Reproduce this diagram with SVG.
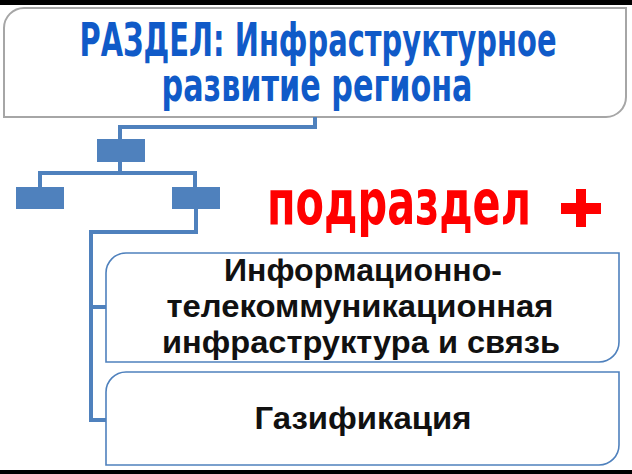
<svg xmlns="http://www.w3.org/2000/svg" width="632" height="474" viewBox="0 0 632 474">
<style>
.conn{fill:none;stroke:#4f81bd;stroke-width:4;stroke-linejoin:miter}
.sq{fill:#4f81bd}
.title{font-family:"Liberation Sans Narrow","DejaVu Sans Condensed","Liberation Sans",sans-serif;font-weight:bold;fill:#105ac8;text-anchor:middle}
.sub{font-family:"Liberation Sans",Arial,sans-serif;font-weight:bold;fill:#111;text-anchor:middle;font-size:32px}
.red{font-family:"Liberation Sans Narrow","DejaVu Sans Condensed","Liberation Sans",sans-serif;font-weight:bold;fill:#ff0000}
.box{fill:#fff;stroke:#4f81bd;stroke-width:1.6}
</style>
<rect x="0" y="0" width="632" height="474" fill="#fff"/>
<rect x="0" y="0" width="632" height="5" fill="#000"/>
<rect x="0" y="470" width="632" height="4" fill="#000"/>
<g id="title-box">
<path d="M24 8 H626 V97 A20 20 0 0 1 606 117 H4 V28 A20 20 0 0 1 24 8 Z" fill="#fff" stroke="#a6a6a6" stroke-width="2"/>
<text class="title" x="318" y="56" font-size="46" textLength="477" lengthAdjust="spacingAndGlyphs">РАЗДЕЛ: Инфраструктурное</text>
<text class="title" x="317" y="101" font-size="46" textLength="311" lengthAdjust="spacingAndGlyphs">развитие региона</text>
</g>
<g id="connectors">
<path class="conn" d="M315 117 V127 H120 V139"/>
<path class="conn" d="M120 162 V173 H40 V187"/>
<path class="conn" d="M120 173 H195 V187"/>
<path class="conn" d="M196 209 V232 H91 V420 H106"/>
<path class="conn" d="M91 307 H106"/>
</g>
<g id="node-top"><rect class="sq" x="97" y="139" width="48" height="23"/></g>
<g id="node-left"><rect class="sq" x="16" y="187" width="48" height="22"/></g>
<g id="node-right"><rect class="sq" x="172" y="187" width="48" height="22"/></g>
<g id="label-podrazdel">
<text class="red" x="267" y="224" font-size="62" textLength="264" lengthAdjust="spacingAndGlyphs">подраздел</text>
<rect x="561" y="203" width="40" height="11" fill="#ff0000"/>
<rect x="576" y="189" width="10" height="38" fill="#ff0000"/>
</g>
<g id="node-telecom">
<path class="box" d="M126 253 H619 V342 A20 20 0 0 1 599 362 H106 V273 A20 20 0 0 1 126 253 Z"/>
<text class="sub" x="363" y="281" textLength="278" lengthAdjust="spacingAndGlyphs">Информационно-</text>
<text class="sub" x="360" y="317" textLength="387" lengthAdjust="spacingAndGlyphs">телекоммуникационная</text>
<text class="sub" x="361" y="353" textLength="398" lengthAdjust="spacingAndGlyphs">инфраструктура и связь</text>
</g>
<g id="node-gas">
<path class="box" d="M126 372 H619 V445 A20 20 0 0 1 599 465 H106 V392 A20 20 0 0 1 126 372 Z"/>
<text class="sub" x="363" y="429" textLength="217" lengthAdjust="spacingAndGlyphs">Газификация</text>
</g>
</svg>
